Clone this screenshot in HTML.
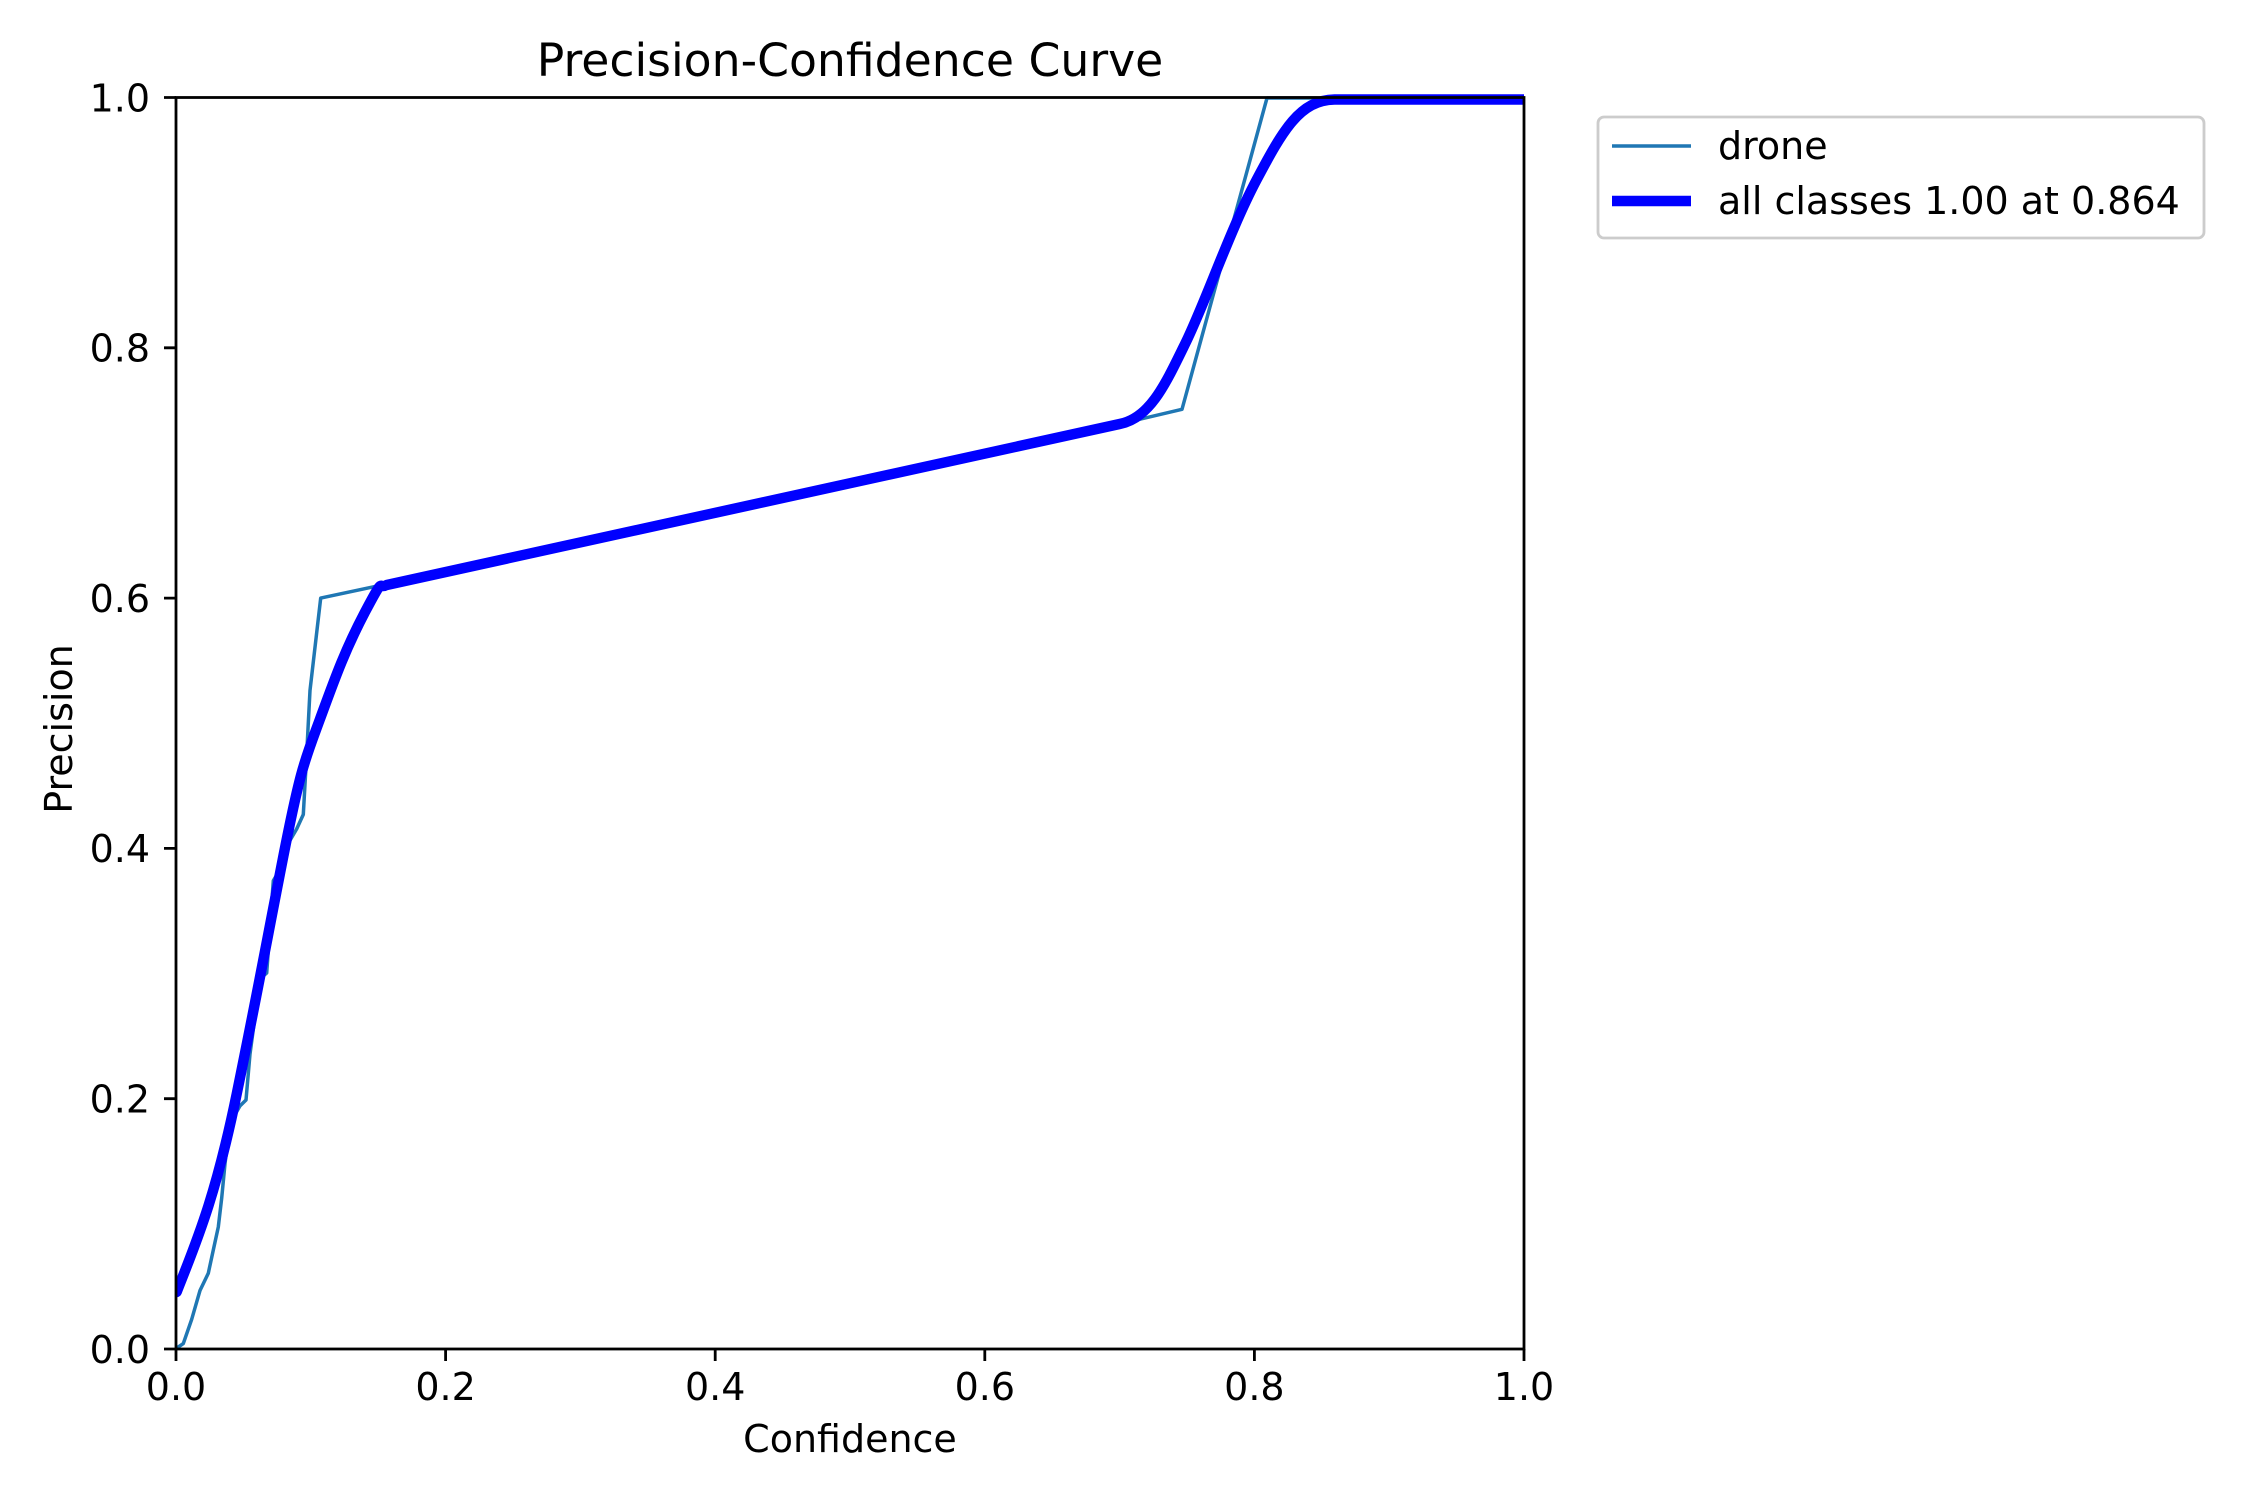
<!DOCTYPE html>
<html><head><meta charset="utf-8"><style>html,body{margin:0;padding:0;background:#fff}svg{display:block}</style></head>
<body>
<svg width="2250" height="1500" viewBox="0 0 2250 1500" xmlns="http://www.w3.org/2000/svg" font-family="DejaVu Sans, Liberation Sans, sans-serif">
<rect width="2250" height="1500" fill="#fff"/>
<defs><clipPath id="c"><rect x="176" y="90" width="1348" height="1259"/></clipPath></defs>
<g clip-path="url(#c)" fill="none" stroke-linejoin="round" stroke-linecap="round">
<polyline stroke="#1f77b4" stroke-width="3.5" points="178.3,1347 183.3,1343.6 191.7,1319.3 200,1290.5 208.3,1273.2 213.3,1250 218.3,1227 221.7,1198 225,1163.7 230,1123.3 240,1105.9 246,1100 250,1054 260,979 266.7,973 273.3,880.8 276.7,875 290,840.4 296.7,828.9 303.3,814.5 306.7,753.9 310,690.4 320.7,598.1 380,585.4 1119.6,424 1182,409.3 1267,98 1524,98"/>
<path stroke="#0000ff" stroke-width="10.4" d="M176.7,1292 C195,1245 215,1200 236.7,1094 S265,950 283,858 S305,760 320,719 S345,650 365,612 S378,590 386.7,585 L1119.6,424 C1150,418 1165,385 1185.5,343 S1230,230 1256.5,180 S1300,100 1334.5,99.5 L1524,99.5"/>
</g>
<g stroke="#000" stroke-width="2.8" fill="none">
<rect x="176" y="97.5" width="1348" height="1251.5"/>
<path d="M176,1349v12M445.6,1349v12M715.2,1349v12M984.8,1349v12M1254.4,1349v12M1524,1349v12"/>
<path d="M176,1349h-12M176,1098.7h-12M176,848.4h-12M176,598.1h-12M176,347.8h-12M176,97.5h-12"/>
</g>
<g font-size="38" fill="#000">
<g text-anchor="middle">
<text x="176" y="1400">0.0</text><text x="445.6" y="1400">0.2</text><text x="715.2" y="1400">0.4</text><text x="984.8" y="1400">0.6</text><text x="1254.4" y="1400">0.8</text><text x="1524" y="1400">1.0</text>
</g>
<g text-anchor="end">
<text x="150" y="1363">0.0</text><text x="150" y="1112.5">0.2</text><text x="150" y="862">0.4</text><text x="150" y="612">0.6</text><text x="150" y="361.5">0.8</text><text x="150" y="111.5">1.0</text>
</g>
<text x="850" y="1452" text-anchor="middle">Confidence</text>
<text transform="translate(72,729) rotate(-90)" text-anchor="middle">Precision</text>
<text x="850" y="76" text-anchor="middle" font-size="45.7">Precision-Confidence Curve</text>
</g>
<rect x="1598" y="117" width="606" height="121" rx="6" fill="#fff" stroke="#cccccc" stroke-width="2.8"/>
<line x1="1612" y1="146" x2="1691" y2="146" stroke="#1f77b4" stroke-width="3.5"/>
<line x1="1612" y1="201" x2="1691" y2="201" stroke="#0000ff" stroke-width="10.4"/>
<g font-size="38" fill="#000">
<text x="1718" y="159">drone</text>
<text x="1718" y="214">all classes 1.00 at 0.864</text>
</g>
</svg>
</body></html>
